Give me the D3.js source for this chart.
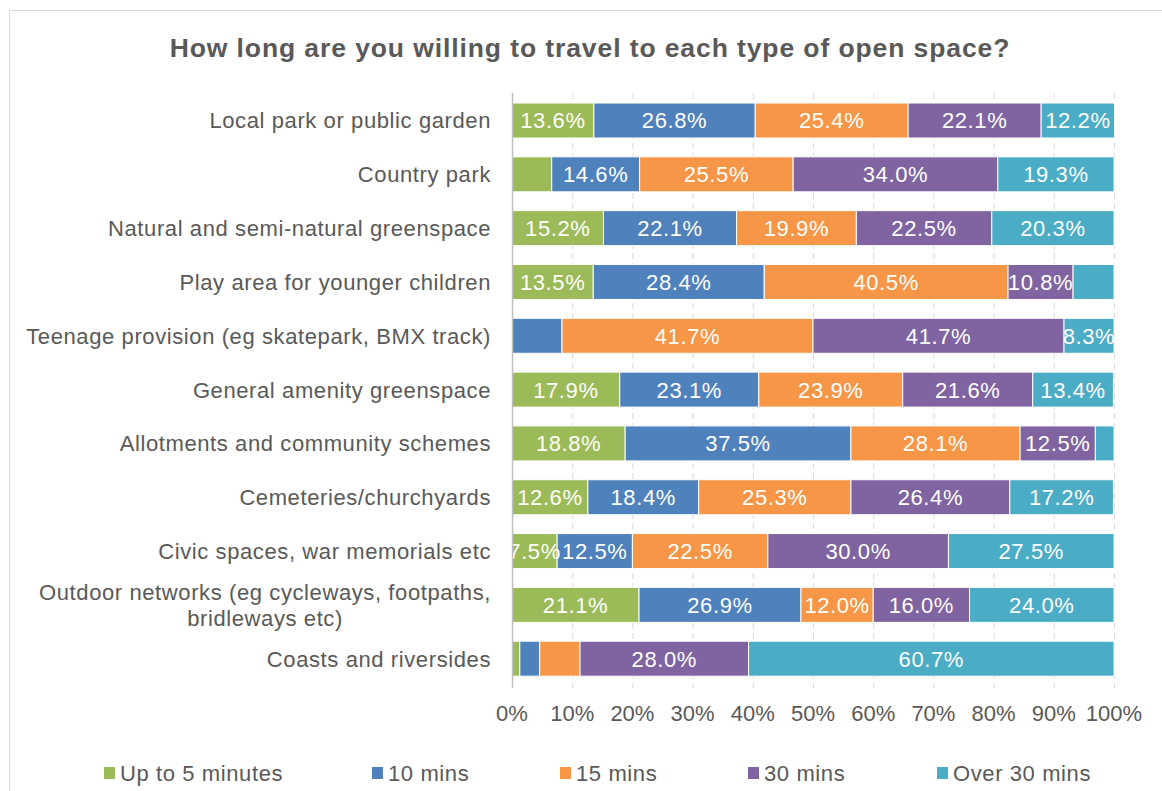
<!DOCTYPE html>
<html>
<head>
<meta charset="utf-8">
<script src="https://cdn.jsdelivr.net/npm/d3@7"></script>
<style>
  body { margin: 0; background: #fff; }
  svg text { font-family: "Liberation Sans", Arial, sans-serif; }
</style>
</head>
<body>
<svg id="canvas" width="1162" height="791"></svg>
<script>
const categories = [
  "Local park or public garden",
  "Country park",
  "Natural and semi-natural greenspace",
  "Play area for younger children",
  "Teenage provision (eg skatepark, BMX track)",
  "General amenity greenspace",
  "Allotments and community schemes",
  "Cemeteries/churchyards",
  "Civic spaces, war memorials etc",
  "Outdoor networks (eg cycleways, footpaths, bridleways etc)",
  "Coasts and riversides"
];

const seriesNames = ["Up to 5 minutes", "10 mins", "15 mins", "30 mins", "Over 30 mins"];
const seriesColors = ["#9bbb59", "#4f81bd", "#f79646", "#8064a2", "#4bacc6"];

const upTo5 = [13.6, 6.6, 15.2, 13.5, 0, 17.9, 18.8, 12.6, 7.5, 21.1, 1.3];
const mins10 = [26.8, 14.6, 22.1, 28.4, 8.3, 23.1, 37.5, 18.4, 12.5, 26.9, 3.3];
const mins15 = [25.4, 25.5, 19.9, 40.5, 41.7, 23.9, 28.1, 25.3, 22.5, 12.0, 6.7];
const mins30 = [22.1, 34.0, 22.5, 10.8, 41.7, 21.6, 12.5, 26.4, 30.0, 16.0, 28.0];
const over30 = [12.2, 19.3, 20.3, 6.8, 8.3, 13.4, 3.1, 17.2, 27.5, 24.0, 60.7];

// segments that have no data label in the original (category index, series index)
const unlabeled = ["1-0", "3-4", "4-0", "4-1", "6-4", "10-0", "10-1", "10-2"];

const xTicks = [0, 10, 20, 30, 40, 50, 60, 70, 80, 90, 100];

const allSeries = [upTo5, mins10, mins15, mins30, over30];
const rows = categories.map((c, i) => {
  const r = { cat: c };
  seriesNames.forEach((s, j) => r[s] = allSeries[j][i]);
  return r;
});

const svg = d3.select("#canvas");
const grey = "#595959";
const ls = "0.6px";

// chart frame
svg.append("rect")
  .attr("x", 9.5).attr("y", 10.5)
  .attr("width", 1300).attr("height", 1000)
  .attr("fill", "none").attr("stroke", "#d9d9d9");

svg.append("text")
  .attr("x", 590).attr("y", 57)
  .attr("text-anchor", "middle")
  .attr("font-size", 26.5).attr("font-weight", "bold")
  .attr("letter-spacing", "0.9px")
  .attr("fill", grey)
  .text("How long are you willing to travel to each type of open space?");

const x = d3.scaleLinear().domain([0, 100]).range([512, 1114]);
const y = d3.scaleBand().domain(categories)
  .range([93.6, 685.6]).paddingInner(0.35).paddingOuter(0.175);

// dashed gridlines
svg.append("g").selectAll("line")
  .data(xTicks.filter(t => t > 0))
  .join("line")
  .attr("x1", d => x(d) + 0.5).attr("x2", d => x(d) + 0.5)
  .attr("y1", 93).attr("y2", 688)
  .attr("stroke", "#d9d9d9")
  .attr("stroke-dasharray", "6,4");

const stack = d3.stack().keys(seriesNames)(rows);

const layer = svg.append("g").selectAll("g")
  .data(stack)
  .join("g")
  .attr("fill", (d, i) => seriesColors[i]);

layer.selectAll("rect")
  .data(d => d)
  .join("rect")
  .attr("x", d => x(d[0]))
  .attr("y", d => y(d.data.cat))
  .attr("width", d => x(d[1]) - x(d[0]))
  .attr("height", y.bandwidth())
  .attr("stroke", "#fff")
  .attr("stroke-width", 1);

// data labels
stack.forEach((s, j) => {
  svg.append("g").selectAll("text")
    .data(s.map((d, i) => ({ d, i })).filter(o => o.d[1] - o.d[0] > 0 && !unlabeled.includes(o.i + "-" + j)))
    .join("text")
    .attr("x", o => (x(o.d[0]) + x(o.d[1])) / 2)
    .attr("y", o => y(o.d.data.cat) + y.bandwidth() / 2)
    .attr("dy", "0.36em")
    .attr("text-anchor", "middle")
    .attr("font-size", 22)
    .attr("letter-spacing", ls)
    .attr("fill", "#fff")
    .text(o => (o.d[1] - o.d[0]).toFixed(1) + "%");
});

// vertical axis line
svg.append("line")
  .attr("x1", x(0) + 0.5).attr("x2", x(0) + 0.5)
  .attr("y1", 93).attr("y2", 688)
  .attr("stroke", "#bfbfbf").attr("stroke-width", 1.5);

// category labels (wrapped label: extra lines centred under the first one)
const catLines = {
  "Outdoor networks (eg cycleways, footpaths, bridleways etc)": ["Outdoor networks (eg cycleways, footpaths,", "bridleways etc)"]
};
const labelX = 491;
const labels = svg.append("g").selectAll("g")
  .data(categories)
  .join("g");
labels.each(function (d) {
  const lines = catLines[d] || [d];
  const g = d3.select(this);
  const cy = y(d) + y.bandwidth() / 2;
  const first = g.append("text")
    .attr("x", labelX)
    .attr("y", cy - (lines.length - 1) * 13)
    .attr("dy", "0.36em")
    .attr("text-anchor", "end")
    .attr("font-size", 22)
    .attr("letter-spacing", ls)
    .attr("fill", grey)
    .text(lines[0]);
  const w = first.node().getComputedTextLength();
  lines.slice(1).forEach((l, k) => {
    g.append("text")
      .attr("x", labelX - w / 2)
      .attr("y", cy - (lines.length - 1) * 13 + 26 * (k + 1))
      .attr("dy", "0.36em")
      .attr("text-anchor", "middle")
      .attr("font-size", 22)
      .attr("letter-spacing", ls)
      .attr("fill", grey)
      .text(l);
  });
});

// x tick labels
svg.append("g").selectAll("text")
  .data(xTicks)
  .join("text")
  .attr("x", d => x(d))
  .attr("y", 713)
  .attr("dy", "0.36em")
  .attr("text-anchor", "middle")
  .attr("font-size", 22)
  .attr("fill", grey)
  .text(d => d + "%");

// legend
const legendX = [104, 372, 560, 748, 937];
const legend = svg.append("g").selectAll("g")
  .data(seriesNames)
  .join("g")
  .attr("transform", (d, i) => `translate(${legendX[i]},773)`);
legend.append("rect")
  .attr("x", 0).attr("y", -6)
  .attr("width", 11).attr("height", 12)
  .attr("fill", (d, i) => seriesColors[i]);
legend.append("text")
  .attr("x", 16).attr("dy", "0.36em")
  .attr("font-size", 22)
  .attr("letter-spacing", ls)
  .attr("fill", grey)
  .text(d => d);
</script>
</body>
</html>
